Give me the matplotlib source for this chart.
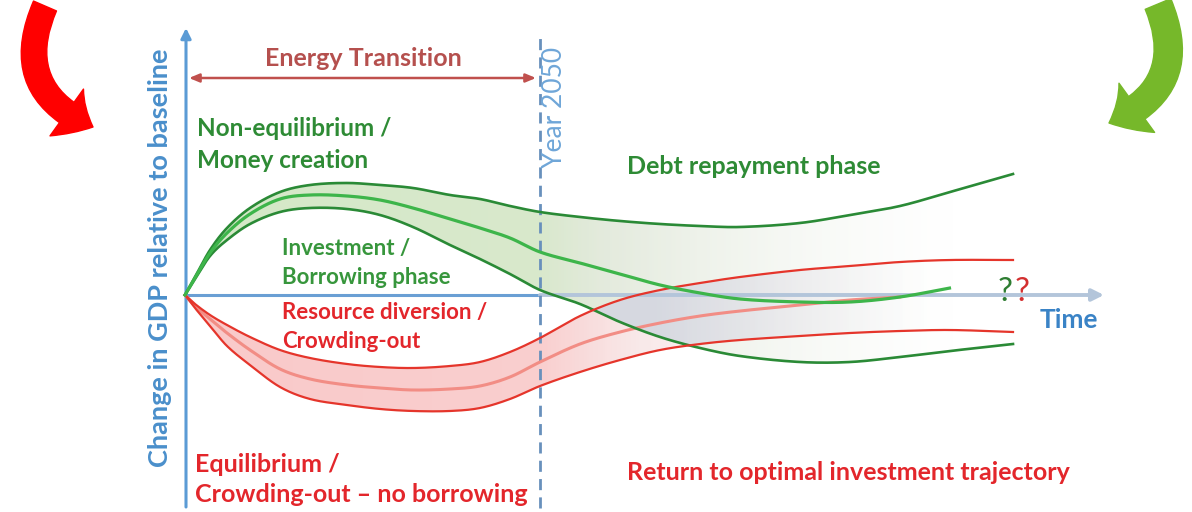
import numpy as np
import matplotlib
matplotlib.use("Agg")
import matplotlib.pyplot as plt
from matplotlib.patches import FancyArrowPatch, ArrowStyle
from matplotlib.path import Path

plt.rcParams['font.family'] = ['Lato', 'DejaVu Sans']

# ---------------- data (conceptual GDP change vs time) ----------------
time = [0, 10, 25, 42, 65, 95, 125, 162, 195, 228, 265, 295, 325, 355,
        395, 435, 475, 515, 555, 615, 665, 715, 765, 828]
year_2050 = 355
nan = np.nan
upper_green = [0, 18, 45, 67, 87, 103, 110, 112, 110, 107, 100, 96, 89, 83,
               78, 74, 71, 69, 68, 72, 80, 89, 103, 121]
middle_green = [0, 17, 42, 62, 81, 96, 100, 99, 95, 87, 76, 67, 57, 43,
                32, 21, 10, 2, -4, -7, -7, -2, 7, nan]
lower_green = [0, 16, 39, 55, 71, 83, 87, 86, 80, 68, 50, 36, 21, 5,
               -9, -27, -42, -53, -61, -67, -67, -62, -56, -49]
upper_red = [0, -9, -20, -30, -42, -55, -63, -69, -72, -73, -71, -67, -57, -43,
             -21, -5, 5, 12, 18, 25, 29, 33, 35, 35]
middle_red = [0, -11, -24, -38, -55, -74, -84, -90, -93, -95, -94, -91, -82, -67,
              -49, -37, -28, -21, -16, -10, -5, -2, nan, nan]
lower_red = [0, -13, -31, -51, -70, -92, -104, -110, -114, -116, -116, -113, -104, -91,
             -77, -65, -55, -49, -45, -41, -38, -36, -35, -37]

# ---------------- figure ----------------
W, H = 1192, 512
X0, Y0 = 185, 295          # pixel position of the origin
fig = plt.figure(figsize=(W / 100, H / 100), dpi=100)
ax = fig.add_axes([0, 0, 1, 1])
ax.axis('off')
XL = (-X0, W - X0)
YL = (Y0 - H, Y0)


def P(px, py):
    return (px - X0, Y0 - py)


t = np.array(time, float)
TT = np.linspace(t[0], t[-1], 1200)     # drawing resolution


def smooth(x, y, xs):
    """Smooth cubic Hermite curve through the given points (for drawing only)."""
    x = np.asarray(x, float)
    y = np.asarray(y, float)
    ok = ~np.isnan(y)
    x, y = x[ok], y[ok]
    n = len(x)
    m = np.zeros(n)
    m[0] = (y[1] - y[0]) / (x[1] - x[0])
    m[-1] = (y[-1] - y[-2]) / (x[-1] - x[-2])
    for i in range(1, n - 1):
        m[i] = (y[i + 1] - y[i - 1]) / (x[i + 1] - x[i - 1])
    out = np.full(len(xs), np.nan)
    idx = np.searchsorted(x, xs, side='right') - 1
    for j, xv in enumerate(xs):
        if xv < x[0] or xv > x[-1]:
            continue
        i = min(max(idx[j], 0), n - 2)
        h = x[i + 1] - x[i]
        s = (xv - x[i]) / h
        h00 = 2 * s**3 - 3 * s**2 + 1
        h10 = s**3 - 2 * s**2 + s
        h01 = -2 * s**3 + 3 * s**2
        h11 = s**3 - s**2
        out[j] = h00 * y[i] + h10 * h * m[i] + h01 * y[i + 1] + h11 * h * m[i + 1]
    return out


ug, mg, lg = (smooth(t, a, TT) for a in (upper_green, middle_green, lower_green))
ur, mr, lr = (smooth(t, a, TT) for a in (upper_red, middle_red, lower_red))


def gradient_fill(lo, hi, stops, z, where=None):
    poly = ax.fill_between(TT, lo, hi, where=where, interpolate=True,
                           facecolor='none', edgecolor='none')
    path = Path.make_compound_path(*poly.get_paths())
    xs = np.linspace(XL[0], XL[1], 800)
    sx = [s[0] for s in stops]
    img = np.zeros((2, len(xs), 4))
    for c in range(3):
        img[:, :, c] = np.interp(xs, sx, [s[1][c] for s in stops])
    img[:, :, 3] = np.interp(xs, sx, [s[2] for s in stops])
    im = ax.imshow(img, extent=[XL[0], XL[1], YL[0], YL[1]], aspect='auto',
                   origin='lower', zorder=z, interpolation='bilinear')
    im.set_clip_path(path, transform=ax.transData)
    poly.remove()


# green envelope
gradient_fill(lg, ug, [(0, (0.83, 0.91, 0.78), 1.0),
                       (year_2050, (0.85, 0.91, 0.80), 1.0),
                       (year_2050 + 60, (0.88, 0.91, 0.85), 0.9),
                       (770, (0.95, 0.96, 0.94), 0.0)], 1)
# red envelope
gradient_fill(lr, ur, [(0, (0.98, 0.79, 0.79), 1.0),
                       (year_2050, (0.98, 0.81, 0.81), 1.0),
                       (450, (0.97, 0.89, 0.89), 0.8),
                       (720, (0.97, 0.95, 0.95), 0.0)], 1.2)
# overlap (grey)
top = np.minimum(ug, ur)
bot = np.maximum(lg, lr)
gradient_fill(bot, top, [(0, (0.84, 0.85, 0.88), 1.0),
                         (470, (0.84, 0.85, 0.88), 1.0),
                         (560, (0.88, 0.89, 0.91), 0.8),
                         (740, (0.96, 0.96, 0.97), 0.0)], 1.4, where=top > bot)

# ---------------- axes ----------------
blue = '#5B9BD5'
ax.plot([0, year_2050], [0, 0], color='#6A9FD4', lw=2.2, zorder=2.5, solid_capstyle='butt')
ax.annotate('', xy=P(1104, 295), xytext=(year_2050, 0),
            arrowprops=dict(arrowstyle='-|>,head_length=0.7,head_width=0.35',
                            color='#B3C5DA', lw=2.8, shrinkA=0, shrinkB=0), zorder=2.5)
ax.annotate('', xy=P(186, 28), xytext=P(186, 507),
            arrowprops=dict(arrowstyle='-|>,head_length=0.6,head_width=0.3',
                            color=blue, lw=2.2, shrinkA=0, shrinkB=0), zorder=2.5)
# year 2050 dashed line
ax.plot([year_2050, year_2050], [P(0, 508)[1], P(0, 38)[1]], color='#6890BC',
        lw=2.0, dashes=(4, 2.6), zorder=2.6)
# energy transition double arrow
ax.annotate('', xy=P(536, 78), xytext=P(189, 78),
            arrowprops=dict(arrowstyle='<|-|>,head_length=0.6,head_width=0.25',
                            color='#C0504D', lw=1.8, shrinkA=0, shrinkB=0), zorder=3)

# ---------------- curves ----------------
dg = '#2A8A36'
ax.plot(TT, ug, color=dg, lw=1.9, zorder=4)
ax.plot(TT, lg, color=dg, lw=1.9, zorder=4)
ax.plot(TT, mg, color='#3DB54A', lw=2.3, zorder=4.1)
ax.plot(TT, ur, color='#E5352B', lw=1.6, zorder=4)
ax.plot(TT, lr, color='#E5352B', lw=1.6, zorder=4)
ax.plot(TT, mr, color='#F28D85', lw=2.2, zorder=3.9)


# ---------------- texts ----------------
def txt(px, py, s, color, size, **kw):
    kw.setdefault('ha', 'left')
    kw.setdefault('va', 'center')
    kw.setdefault('fontweight', 'bold')
    ax.text(*P(px, py), s, color=color, fontsize=size, zorder=6, **kw)


green_t = '#2E8B35'
red_t = '#E3262B'
txt(363, 58, 'Energy Transition', '#B5504E', 18, ha='center')
txt(197, 129, 'Non-equilibrium /', green_t, 17.5)
txt(197, 160, 'Money creation', green_t, 17.5)
txt(627, 167, 'Debt repayment phase', green_t, 18)
txt(282, 248, 'Investment /', '#37963C', 16)
txt(282, 277, 'Borrowing phase', '#37963C', 16)
txt(282, 312, 'Resource diversion /', red_t, 16)
txt(282, 341, 'Crowding-out', red_t, 16)
txt(195, 465, 'Equilibrium /', red_t, 18)
txt(195, 494, 'Crowding-out \u2013 no borrowing', red_t, 18)
txt(627, 473, 'Return to optimal investment trajectory', red_t, 18)
txt(160, 258, 'Change in GDP relative to baseline', '#4A8FCB', 19.5,
    ha='center', rotation=90)
txt(555, 107, 'Year 2050', '#6FA6D8', 19, ha='center', rotation=90, fontweight='normal')
txt(1040, 320, 'Time', '#3A83C6', 19)
txt(998, 292, '?', '#2E7D32', 24, fontweight='normal')
txt(1015, 292, '?', '#D32F2F', 24, fontweight='normal')

# ---------------- decorative curved arrows ----------------
red_arrow = FancyArrowPatch(P(45, 6), P(93, 127), connectionstyle='arc3,rad=0.5',
                            arrowstyle=ArrowStyle.Simple(head_length=1.2, head_width=2.3,
                                                         tail_width=1.0),
                            mutation_scale=18, color='#FF0000', shrinkA=0, shrinkB=0,
                            zorder=5)
ax.add_patch(red_arrow)
green_arrow = FancyArrowPatch(P(1158, 4), P(1109, 123), connectionstyle='arc3,rad=-0.5',
                              arrowstyle=ArrowStyle.Simple(head_length=1.2, head_width=2.3,
                                                           tail_width=1.05),
                              mutation_scale=19, color='#76B82A', shrinkA=0, shrinkB=0,
                              zorder=5)
ax.add_patch(green_arrow)

ax.set_xlim(*XL)
ax.set_ylim(*YL)
fig.savefig('out.png', dpi=100, facecolor='white')
